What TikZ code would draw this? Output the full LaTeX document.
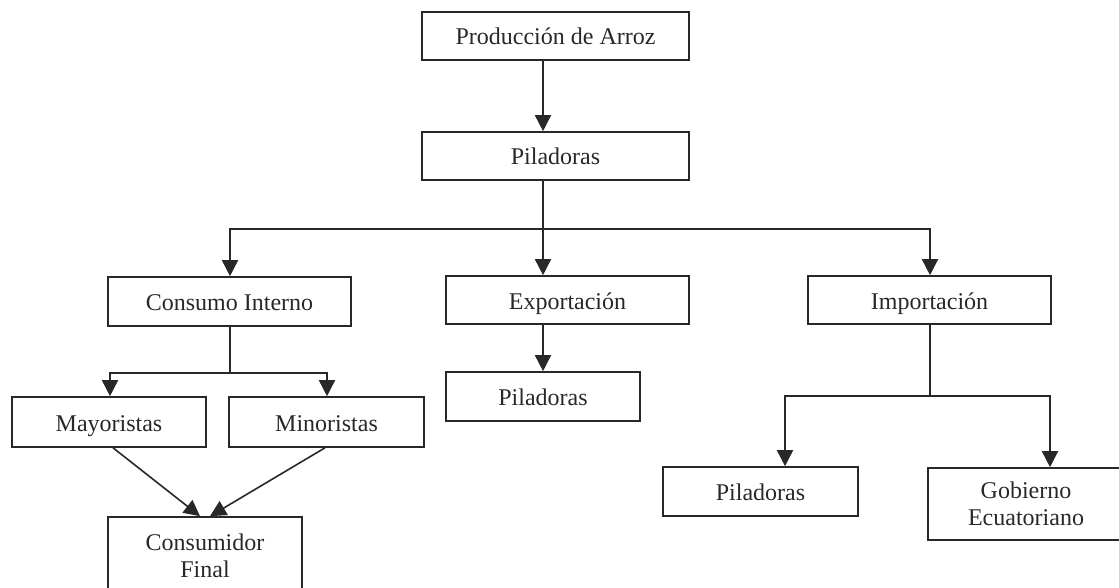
\documentclass[tikz,border=0pt]{standalone}
\usepackage{fontspec}
\setmainfont{Liberation Serif}
\usetikzlibrary{arrows.meta,calc}
\definecolor{ink}{RGB}{40,40,40}
\begin{document}
\begin{tikzpicture}[x=1pt,y=-1pt,
  box/.style={draw=ink,line width=1.6pt,text=ink,inner sep=2pt,align=center,
    font=\fontsize{24}{27}\selectfont},
  one/.style={box,text height=21pt,text depth=3pt},
  link/.style={draw=ink,line width=1.6pt},
  arr/.style={link,-{Triangle[length=16pt,width=16pt]}}]
\useasboundingbox (0,0) rectangle (1119,588);
\clip (0,0) rectangle (1119,588);
% boxes
\node[one,minimum width=267pt,minimum height=48pt] (prod) at (555.5,36) {Producción de Arroz};
\node[one,minimum width=267pt,minimum height=48pt] (pil1) at (555.5,156) {Piladoras};
\node[one,minimum width=243pt,minimum height=49pt] (cons) at (229.5,301.5) {Consumo Interno};
\node[one,minimum width=243pt,minimum height=48pt] (expo) at (567.5,300) {Exportación};
\node[one,minimum width=243pt,minimum height=48pt] (impo) at (929.5,300) {Importación};
\node[one,minimum width=194pt,minimum height=49pt] (pil2) at (543,396.5) {Piladoras};
\node[one,minimum width=194pt,minimum height=50pt] (mayo) at (109,422) {Mayoristas};
\node[one,minimum width=195pt,minimum height=50pt] (mino) at (326.5,422) {Minoristas};
\node[box,minimum width=194pt,minimum height=78pt] (cfin) at (205,556) {Consumidor\\Final};
\node[one,minimum width=195pt,minimum height=49pt] (pil3) at (760.5,491.5) {Piladoras};
\node[box,minimum width=196pt,minimum height=72pt] (gob) at (1026,504) {Gobierno\\Ecuatoriano};
% junction coordinates
\coordinate (j1) at (543,229);
\coordinate (jl) at (230,229);
\coordinate (jr) at (930,229);
\coordinate (j2) at (230,373);
\coordinate (j2l) at (110,373);
\coordinate (j2r) at (327,373);
\coordinate (j3) at (930,396);
\coordinate (j3l) at (785,396);
\coordinate (j3r) at (1050,396);
% connectors
\draw[arr] (prod.south -| j1) -- (pil1.north -| j1);
\draw[link] (pil1.south -| j1) -- (j1);
\draw[arr] (jr) -- (jl) -- (cons.north -| jl);
\draw[arr] (j1) -- (expo.north -| j1);
\draw[arr] (jl) -- (jr) -- (impo.north -| jr);
\draw[arr] (expo.south -| j1) -- (pil2.north -| j1);
\draw[link] (cons.south -| j2) -- (j2);
\draw[arr] (j2) -- (j2l) -- (mayo.north -| j2l);
\draw[arr] (j2) -- (j2r) -- (mino.north -| j2r);
\draw[arr] ($(mayo.south)+(4,0)$) -- ($(cfin.north)+(-5,0)$);
\draw[arr] ($(mino.south)+(-1.5,0)$) -- ($(cfin.north)+(5,0)$);
\draw[link] (impo.south -| j3) -- (j3);
\draw[arr] (j3) -- (j3l) -- (pil3.north -| j3l);
\draw[arr] (j3) -- (j3r) -- (gob.north -| j3r);
\end{tikzpicture}
\end{document}
